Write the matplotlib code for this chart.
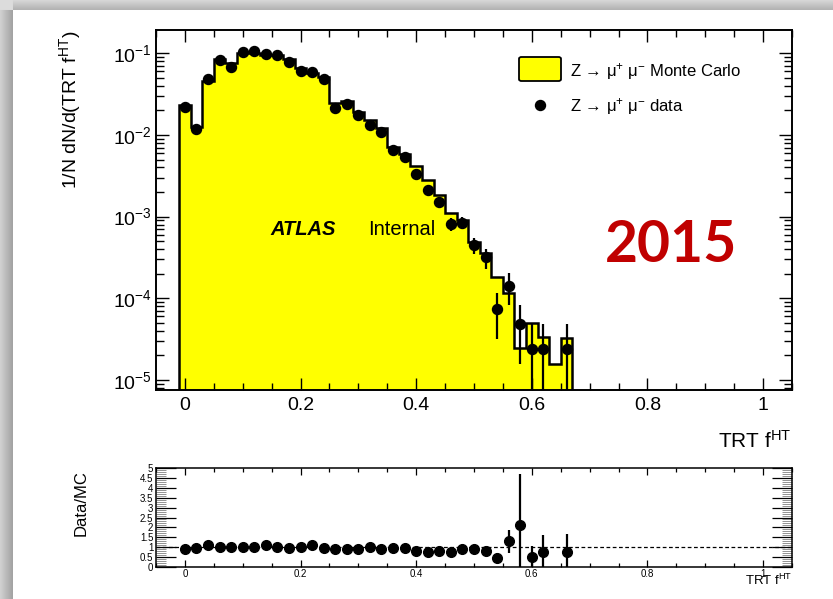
import numpy as np
import matplotlib
matplotlib.use('Agg')
import matplotlib.pyplot as plt
from matplotlib.patches import FancyBboxPatch
from matplotlib.lines import Line2D
from matplotlib.ticker import MultipleLocator, LogLocator, FuncFormatter, NullFormatter

plt.rcParams['font.family'] = ['Liberation Sans', 'DejaVu Sans']
plt.rcParams['mathtext.fontset'] = 'custom'
plt.rcParams['mathtext.rm'] = 'Liberation Sans'
plt.rcParams['mathtext.it'] = 'Liberation Sans:italic'
plt.rcParams['mathtext.bf'] = 'Liberation Sans:bold'
plt.rcParams['mathtext.default'] = 'regular'

# TRT high-threshold fraction, 0.02 wide bins centred on 0 ... 0.66
bin_edges = np.round(np.arange(-0.01, 0.671, 0.02), 3)
bin_centers = 0.5 * (bin_edges[:-1] + bin_edges[1:])

# normalised Z->mumu Monte Carlo
mc = [0.0232, 0.0124, 0.0458, 0.085, 0.0755, 0.100, 0.100, 0.095, 0.095, 0.085,
      0.0655, 0.058, 0.0518, 0.0249, 0.0263, 0.0193, 0.0153, 0.0121, 0.0072, 0.0058,
      0.0042, 0.00281, 0.00185, 0.0011, 0.00091, 0.00049, 0.000356, 0.000181, 0.000115, 2.45e-5,
      4.95e-5, 3.34e-5, 1.56e-5, 3.25e-5]

# normalised Z->mumu data (no entry in the 0.64 bin)
data = [0.0218, 0.0117, 0.048, 0.083, 0.0686, 0.103, 0.105, 0.097, 0.0945, 0.079,
        0.0607, 0.0596, 0.0484, 0.0216, 0.024, 0.0176, 0.0133, 0.0108, 0.00655, 0.0054,
        0.00333, 0.0021, 0.00153, 0.00081, 0.000845, 0.00045, 0.000318, 7.36e-5, 0.000143, 4.87e-5,
        2.4e-5, 2.4e-5, np.nan, 2.4e-5]
data_err = [7e-4, 5e-4, 1e-3, 1.4e-3, 1.3e-3, 1.6e-3, 1.6e-3, 1.5e-3, 1.5e-3, 1.4e-3,
            1.2e-3, 1.2e-3, 1.1e-3, 7e-4, 7.6e-4, 6.5e-4, 5.6e-4, 5.1e-4, 4e-4, 3.6e-4,
            2.8e-4, 2.2e-4, 1.9e-4, 1.4e-4, 1.4e-4, 1.04e-4, 8.7e-5, 4.2e-5, 6e-5, 3.3e-5,
            2.4e-5, 2.4e-5, np.nan, 2.4e-5]

# data / MC
ratio = [0.91, 0.97, 1.09, 1.02, 1.02, 1.02, 1.03, 1.09, 1.02, 0.95,
         1.02, 1.09, 0.97, 0.91, 0.91, 0.91, 1.02, 0.91, 0.97, 0.97,
         0.79, 0.74, 0.83, 0.76, 0.91, 0.91, 0.83, 0.45, 1.29, 2.1,
         0.48, 0.76, np.nan, 0.76]
ratio_err = [0.02, 0.02, 0.02, 0.02, 0.02, 0.02, 0.02, 0.02, 0.02, 0.02,
             0.02, 0.02, 0.02, 0.03, 0.03, 0.03, 0.03, 0.03, 0.04, 0.05,
             0.07, 0.08, 0.1, 0.13, 0.16, 0.2, 0.24, 0.26, 0.6, 2.62,
             0.6, 0.84, np.nan, 0.9]

W, H = 833, 599


def fx(x):
    return x / W


def fy(y):
    return 1 - y / H


fig = plt.figure(figsize=(W / 100, H / 100), dpi=100)

# slide frame with a soft shadow on the top and left
bg = fig.add_axes([0, 0, 1, 1], zorder=-10)
bg.axis('off')
shade = np.ones((H, W))
shade[:, :13] = 0.82 - 0.18 * np.arange(13) / 12
shade[:10, 13:] = (0.84 - 0.14 * np.arange(10) / 9)[:, None]
shade[:10, :13] = 0.86
bg.imshow(shade, cmap='gray', vmin=0, vmax=1, aspect='auto',
          extent=(0, 1, 0, 1), interpolation='bilinear')

# ---- main distribution ----
ax = fig.add_axes([fx(156), fy(390), fx(792 - 156), (390 - 29.5) / H])
ax.set_yscale('log')
ax.set_xlim(-0.05, 1.05)
ax.set_ylim(7.55e-6, 0.195)

ax.stairs(mc, bin_edges, baseline=1e-9, fill=True, color='#ffff00', zorder=1)
ax.stairs(mc, bin_edges, baseline=1e-9, color='black', lw=1.8, zorder=2)

d = np.array(data)
e = np.array(data_err)
lo = np.minimum(e, d * 0.999)
ax.errorbar(bin_centers, d, yerr=[lo, e], fmt='o', color='black', ms=7.2,
            elinewidth=1.6, capsize=0, zorder=3)

ax.xaxis.set_major_locator(MultipleLocator(0.2))
ax.xaxis.set_minor_locator(MultipleLocator(0.05))
ax.xaxis.set_major_formatter(FuncFormatter(lambda v, p: '%g' % round(v, 2)))
ax.yaxis.set_major_locator(LogLocator(base=10, numticks=12))
ax.yaxis.set_minor_locator(LogLocator(base=10, subs=np.arange(2, 10), numticks=12))
ax.yaxis.set_minor_formatter(NullFormatter())
ax.tick_params(which='both', direction='in', top=True, right=True, width=1.0, labelsize=14)
ax.tick_params(axis='x', which='major', length=8.6, pad=5)
ax.tick_params(axis='x', which='minor', length=5)
ax.tick_params(axis='y', which='major', length=9.4, pad=3)
ax.tick_params(axis='y', which='minor', length=5.8)
for s in ax.spines.values():
    s.set_linewidth(1.4)

fig.text(fx(70), fy(31), r'1/N dN/d(TRT f$^{HT}$)', rotation=90,
         ha='center', va='top', fontsize=14)
fig.text(fx(792), fy(448), r'TRT f$^{HT}$', ha='right', va='baseline', fontsize=15)

fig.text(fx(270), fy(235), 'ATLAS', fontsize=14.5, fontweight='bold', fontstyle='italic',
         ha='left', va='baseline')
fig.text(fx(368), fy(235), 'Internal', fontsize=14.5, ha='left', va='baseline')

fig.text(fx(671), fy(262.5), '2015', family='Lato', fontweight='bold', fontsize=41,
         color='#c00000', ha='center', va='baseline')

# legend
fig.add_artist(FancyBboxPatch((fx(519), fy(81)), fx(42), 24 / H,
                              boxstyle='round,pad=0,rounding_size=0.003',
                              facecolor='#ffff00', edgecolor='black', lw=1.3,
                              transform=fig.transFigure))
fig.add_artist(Line2D([fx(540)], [fy(105)], marker='o', ms=7.2, color='black',
                      transform=fig.transFigure))
fig.text(fx(570), fy(76.5), 'Z \u2192 $\\mu^{+}$ $\\mu^{-}$ Monte Carlo',
         fontsize=12, ha='left', va='baseline')
fig.text(fx(570), fy(111), 'Z \u2192 $\\mu^{+}$ $\\mu^{-}$ data',
         fontsize=12, ha='left', va='baseline')

# ---- ratio panel ----
rax = fig.add_axes([fx(156), fy(567), fx(792 - 156), 99 / H])
rax.set_xlim(-0.05, 1.05)
rax.set_ylim(0, 5)
rax.axhline(1, ls=(0, (3, 2)), color='black', lw=0.9, zorder=1)
rax.errorbar(bin_centers, ratio, yerr=ratio_err, fmt='o', color='black', ms=7,
             elinewidth=1.6, capsize=0, zorder=3, clip_on=True)

rax.xaxis.set_major_locator(MultipleLocator(0.2))
rax.xaxis.set_minor_locator(MultipleLocator(0.05))
rax.xaxis.set_major_formatter(FuncFormatter(lambda v, p: '%g' % round(v, 2)))
rax.yaxis.set_major_locator(MultipleLocator(0.5))
rax.yaxis.set_minor_locator(MultipleLocator(0.1))
rax.yaxis.set_major_formatter(FuncFormatter(lambda v, p: '%g' % v))
rax.tick_params(which='both', direction='in', top=True, right=True, labelsize=7)
rax.tick_params(axis='x', which='major', length=5, width=0.9, pad=1.5)
rax.tick_params(axis='x', which='minor', length=3, width=0.9)
rax.tick_params(axis='y', which='major', length=14.4, width=0.9, pad=2)
rax.tick_params(axis='y', which='minor', length=7.2, width=0.5, color='#666666')
for s in rax.spines.values():
    s.set_linewidth(1.1)

fig.text(fx(81), fy(470), 'Data/MC', rotation=90, ha='center', va='top', fontsize=12)
fig.text(fx(792), fy(585), r'TRT f$^{HT}$', ha='right', va='baseline', fontsize=9.5)

fig.savefig('out.png', dpi=100)
